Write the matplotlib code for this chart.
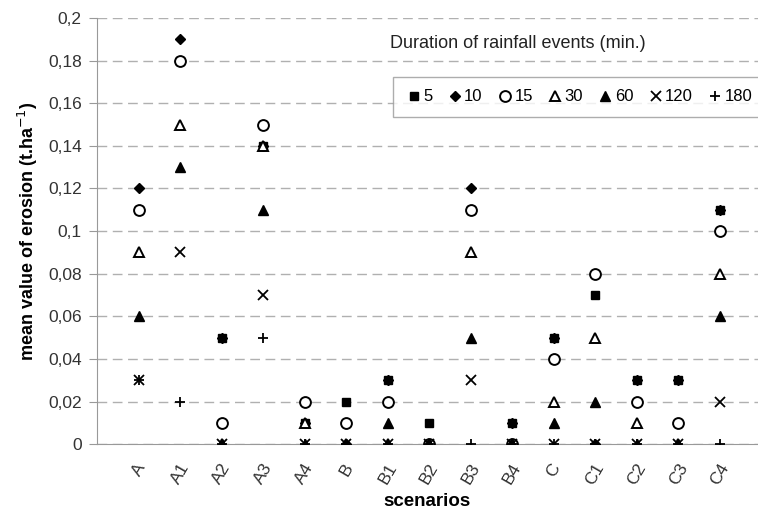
import matplotlib.pyplot as plt
from matplotlib.ticker import FuncFormatter

plt.rcParams['font.family'] = ['Liberation Sans', 'DejaVu Sans']

scenarios = ["A", "A1", "A2", "A3", "A4", "B", "B1", "B2", "B3", "B4",
             "C", "C1", "C2", "C3", "C4"]

d5 = [0.11, 0.18, 0.05, 0.14, 0.01, 0.02, 0.03, 0.01, 0.11, 0.01, 0.05, 0.07, 0.03, 0.03, 0.11]
d10 = [0.12, 0.19, 0.05, 0.14, 0.01, 0.0, 0.03, 0.0, 0.12, 0.01, 0.05, 0.0, 0.03, 0.03, 0.11]
d15 = [0.11, 0.18, 0.01, 0.15, 0.02, 0.01, 0.02, 0.0, 0.11, 0.0, 0.04, 0.08, 0.02, 0.01, 0.10]
d30 = [0.09, 0.15, 0.0, 0.14, 0.01, 0.0, 0.0, 0.0, 0.09, 0.0, 0.02, 0.05, 0.01, 0.0, 0.08]
d60 = [0.06, 0.13, 0.0, 0.11, 0.0, 0.0, 0.01, 0.0, 0.05, 0.0, 0.01, 0.02, 0.0, 0.0, 0.06]
d120 = [0.03, 0.09, 0.0, 0.07, 0.0, 0.0, 0.0, 0.0, 0.03, 0.0, 0.0, 0.0, 0.0, 0.0, 0.02]
d180 = [0.03, 0.02, 0.0, 0.05, 0.0, 0.0, 0.0, 0.0, 0.0, 0.0, 0.0, 0.0, 0.0, 0.0, 0.0]

series = [("5", d5), ("10", d10), ("15", d15), ("30", d30),
          ("60", d60), ("120", d120), ("180", d180)]

styles = {
    "5": dict(marker="s", ms=5.8, mfc="black", mec="black"),
    "10": dict(marker="D", ms=5.5, mfc="black", mec="black"),
    "15": dict(marker="o", ms=7.8, mfc="white", mec="black", mew=1.4),
    "30": dict(marker="^", ms=6.5, mfc="white", mec="black", mew=1.4),
    "60": dict(marker="^", ms=7, mfc="black", mec="black"),
    "120": dict(marker="x", ms=7.5, mfc="none", mec="black", mew=1.3),
    "180": dict(marker="+", ms=7.5, mfc="none", mec="black", mew=1.3),
}

fig = plt.figure(figsize=(7.58, 5.17), dpi=100)
ax = fig.add_axes([0.128, 0.141, 0.872, 0.824])

x = list(range(1, len(scenarios) + 1))
for name, vals in series:
    ax.plot(x, vals, linestyle="none", label=name, zorder=3, **styles[name])

ax.set_xlim(0, 15.92)
ax.set_ylim(0, 0.2)
ax.set_yticks([i * 0.02 for i in range(11)])
ax.yaxis.set_major_formatter(FuncFormatter(lambda v, p: ("%g" % round(v, 2)).replace(".", ",")))
ax.yaxis.grid(True, linestyle=(0, (7, 4)), color="#b0b0b0", linewidth=1)
ax.set_axisbelow(True)

ax.set_xticks(x)
ax.set_xticklabels(scenarios, rotation=60, ha="center", va="top", fontsize=12.5, color="#333333")
ax.tick_params(axis="x", length=0, pad=12)
ax.tick_params(axis="y", length=6, color="#999999", labelsize=12.5, labelcolor="#333333",
               direction="out", pad=5)

for s in ["top", "right"]:
    ax.spines[s].set_visible(False)
ax.spines["left"].set_color("#999999")
ax.spines["bottom"].set_color("#999999")

ax.set_ylabel("mean value of erosion (t.ha$^{-1}$)", fontsize=13, fontweight="bold", labelpad=6)
ax.set_xlabel("scenarios", fontsize=13.5, fontweight="bold", labelpad=4)

leg = ax.legend(loc="upper right", bbox_to_anchor=(1.01, 0.862), ncol=7, frameon=True,
                fancybox=False, edgecolor="#999999", fontsize=12, handletextpad=0.05,
                columnspacing=0.85, handlelength=1.0, borderpad=0.75, borderaxespad=0)
leg.get_frame().set_linewidth(1)

ax.text(0.637, 0.94, "Duration of rainfall events (min.)", transform=ax.transAxes,
        ha="center", va="center", fontsize=13, color="#222222")

plt.savefig("out.png", dpi=100)
